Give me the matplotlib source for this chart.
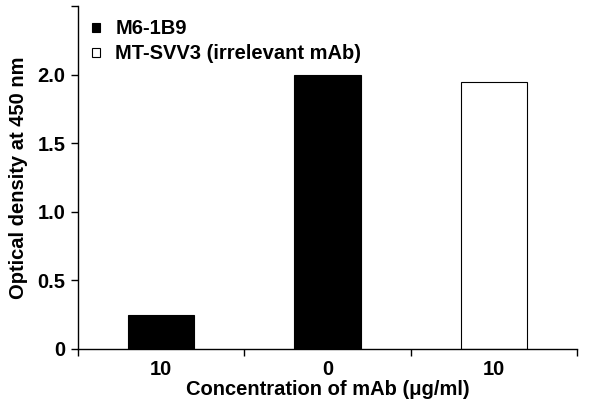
import matplotlib
matplotlib.use("Agg")
import matplotlib.pyplot as plt
import numpy as np

plt.rcParams['font.family'] = ['Liberation Sans', 'DejaVu Sans']
plt.rcParams['font.weight'] = 'bold'

tick_labels = ['10', '0', '10']
m6_positions = [0, 1]
m6_values = [0.25, 2.0]
svv3_positions = [2]
svv3_values = [1.95]
series_names = ['M6-1B9', 'MT-SVV3 (irrelevant mAb)']

FS = 14.5

fig = plt.figure(figsize=(6, 4.11), dpi=100)
ax = fig.add_axes([0.13, 0.151, 0.832, 0.834])

ax.bar(m6_positions, m6_values, width=0.4, color='black', edgecolor='black', linewidth=0.8, label=series_names[0])
ax.bar(svv3_positions, svv3_values, width=0.4, color='white', edgecolor='black', linewidth=0.8, label=series_names[1])

ax.set_xlim(-0.5, 2.5)
ax.set_ylim(0, 2.5)
ax.set_yticks([0, 0.5, 1.0, 1.5, 2.0, 2.5])
ax.set_yticklabels(['0', '0.5', '1.0', '1.5', '2.0', ''])
ax.set_xticks([0, 1, 2])
ax.set_xticklabels(tick_labels)
ax.set_xticks([-0.5, 0.5, 1.5, 2.5], minor=True)
ax.tick_params(axis='x', which='major', length=0, labelsize=FS, pad=8)
ax.tick_params(axis='x', which='minor', length=5, width=1, direction='out')
ax.tick_params(axis='y', length=5, width=1, direction='out', labelsize=FS, pad=4)
for s in ['top', 'right']:
    ax.spines[s].set_visible(False)
for s in ['left', 'bottom']:
    ax.spines[s].set_linewidth(1)

ax.set_xlabel('Concentration of mAb (\u03bcg/ml)', fontsize=FS, fontweight='bold', labelpad=1)
ax.set_ylabel('Optical density at 450 nm', fontsize=FS, fontweight='bold', labelpad=7)

leg = ax.legend(loc='upper left', frameon=False, fontsize=FS, handlelength=0.4, handleheight=0.3,
                handletextpad=0.75, labelspacing=0.3, borderaxespad=0.0, bbox_to_anchor=(0.012, 0.985))
for t in leg.get_texts():
    t.set_fontweight('bold')

fig.savefig('out.png', dpi=100)
